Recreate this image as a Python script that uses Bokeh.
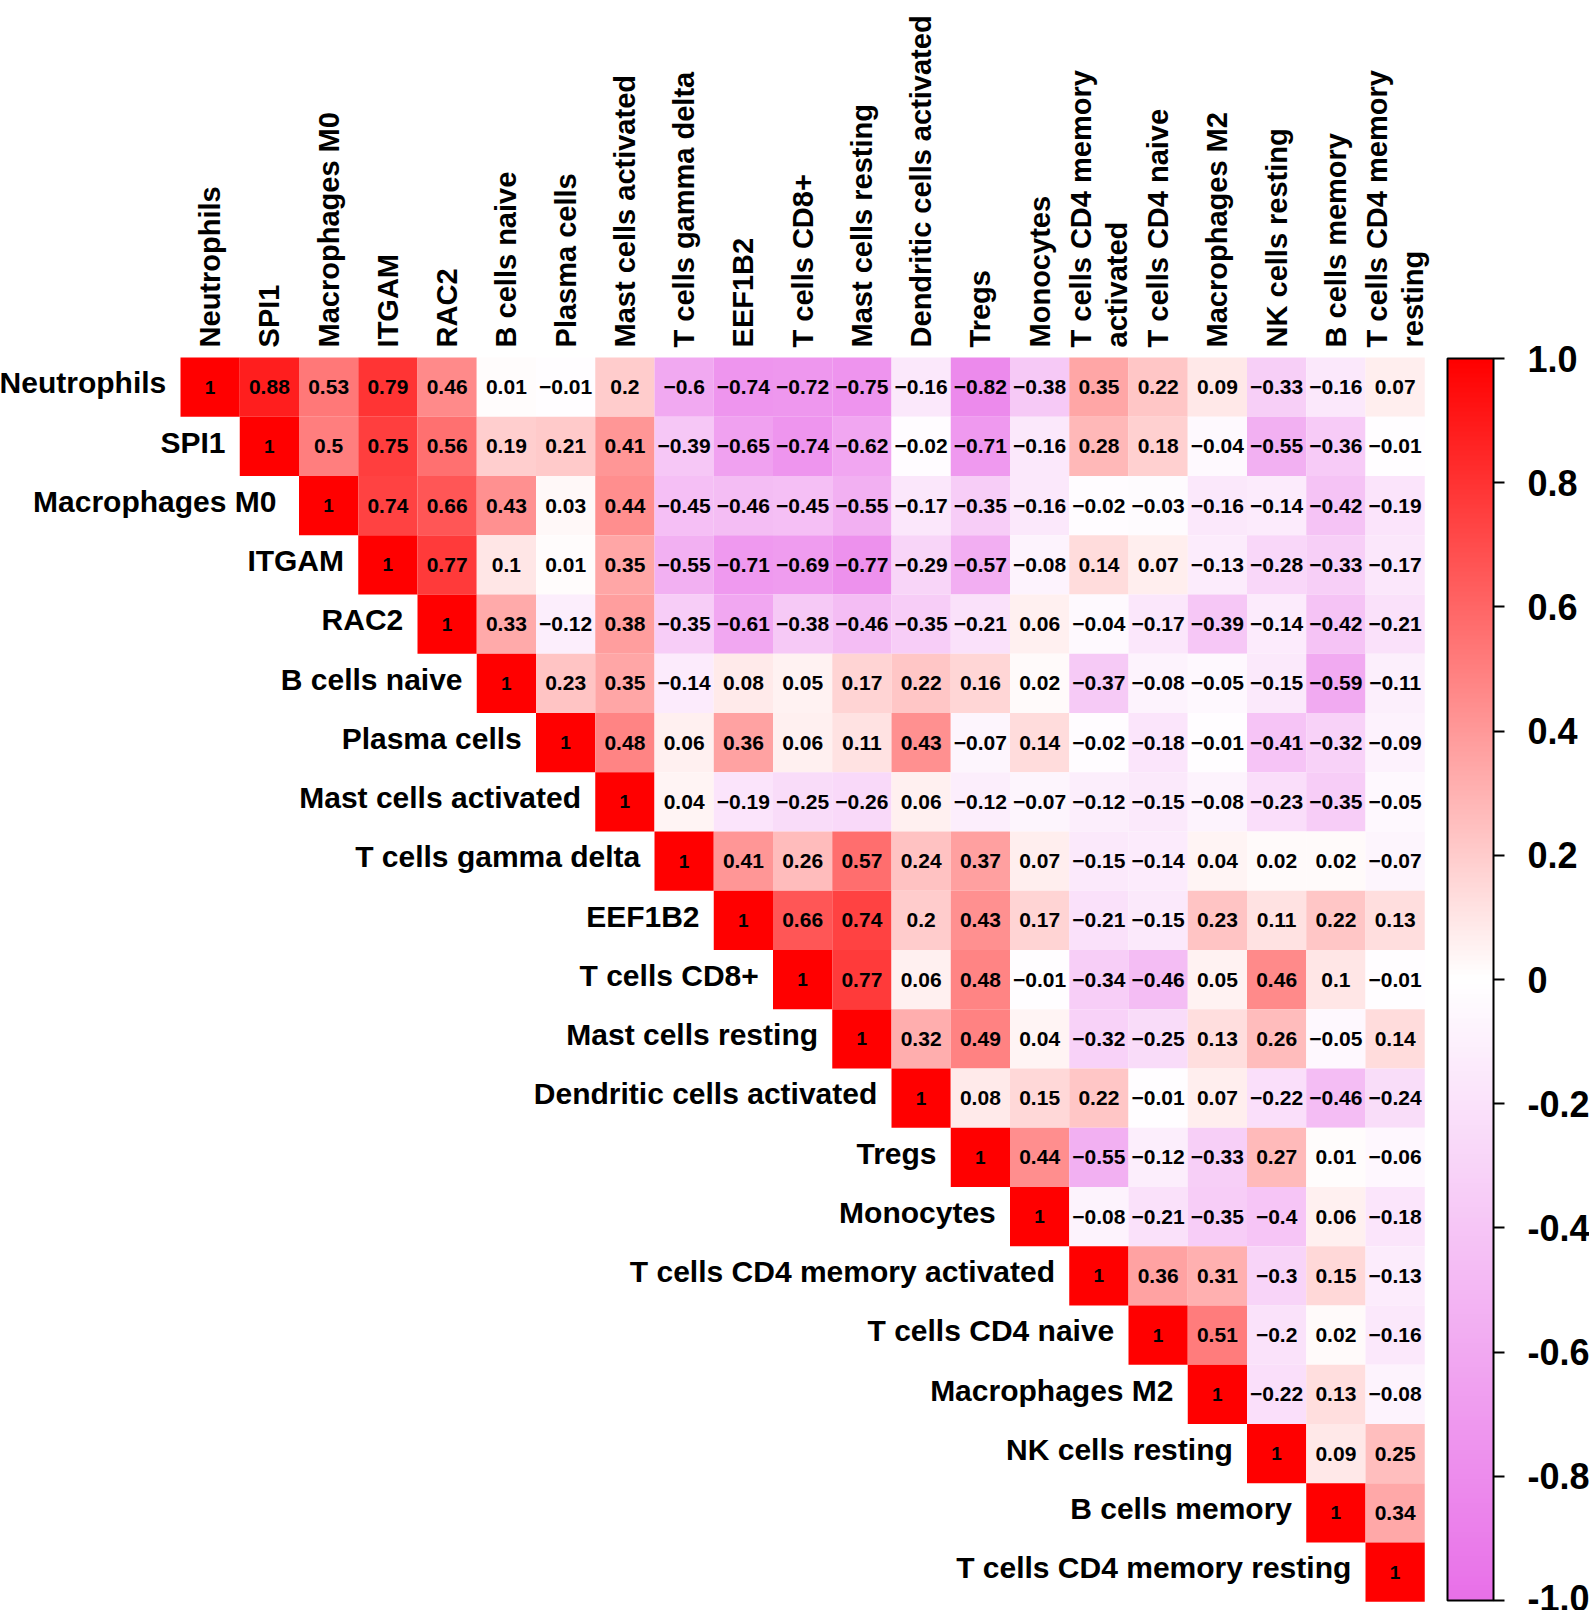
import numpy as np
from bokeh.plotting import figure
from bokeh.models import ColumnDataSource, LinearColorMapper, ColorBar, FixedTicker, CustomJSTickFormatter
from bokeh.core.properties import value
from bokeh.transform import transform
from bokeh.embed import file_html
from bokeh.resources import INLINE

# ---------------- data ----------------
row_labels = ["Neutrophils", "SPI1", "Macrophages  M0", "ITGAM", "RAC2", "B cells naive",
              "Plasma cells", "Mast cells activated", "T cells gamma delta", "EEF1B2",
              "T cells CD8+", "Mast cells resting", "Dendritic cells activated", "Tregs",
              "Monocytes", "T cells CD4 memory activated", "T cells CD4 naive",
              "Macrophages M2", "NK cells resting", "B cells memory",
              "T cells CD4 memory resting"]
col_labels = ["Neutrophils", "SPI1", "Macrophages  M0", "ITGAM", "RAC2", "B cells naive",
              "Plasma cells", "Mast cells activated", "T cells gamma delta", "EEF1B2",
              "T cells CD8+", "Mast cells resting", "Dendritic cells activated", "Tregs",
              "Monocytes", "T cells CD4 memory\nactivated", "T cells CD4 naive",
              "Macrophages M2", "NK cells resting", "B cells memory",
              "T cells CD4 memory\nresting"]

# upper triangle of the correlation matrix, each row starts at the diagonal
neutrophils = [1, 0.88, 0.53, 0.79, 0.46, 0.01, -0.01, 0.2, -0.6, -0.74, -0.72, -0.75, -0.16, -0.82, -0.38, 0.35, 0.22, 0.09, -0.33, -0.16, 0.07]
spi1 = [1, 0.5, 0.75, 0.56, 0.19, 0.21, 0.41, -0.39, -0.65, -0.74, -0.62, -0.02, -0.71, -0.16, 0.28, 0.18, -0.04, -0.55, -0.36, -0.01]
macrophages_m0 = [1, 0.74, 0.66, 0.43, 0.03, 0.44, -0.45, -0.46, -0.45, -0.55, -0.17, -0.35, -0.16, -0.02, -0.03, -0.16, -0.14, -0.42, -0.19]
itgam = [1, 0.77, 0.1, 0.01, 0.35, -0.55, -0.71, -0.69, -0.77, -0.29, -0.57, -0.08, 0.14, 0.07, -0.13, -0.28, -0.33, -0.17]
rac2 = [1, 0.33, -0.12, 0.38, -0.35, -0.61, -0.38, -0.46, -0.35, -0.21, 0.06, -0.04, -0.17, -0.39, -0.14, -0.42, -0.21]
b_cells_naive = [1, 0.23, 0.35, -0.14, 0.08, 0.05, 0.17, 0.22, 0.16, 0.02, -0.37, -0.08, -0.05, -0.15, -0.59, -0.11]
plasma_cells = [1, 0.48, 0.06, 0.36, 0.06, 0.11, 0.43, -0.07, 0.14, -0.02, -0.18, -0.01, -0.41, -0.32, -0.09]
mast_cells_activated = [1, 0.04, -0.19, -0.25, -0.26, 0.06, -0.12, -0.07, -0.12, -0.15, -0.08, -0.23, -0.35, -0.05]
t_cells_gamma_delta = [1, 0.41, 0.26, 0.57, 0.24, 0.37, 0.07, -0.15, -0.14, 0.04, 0.02, 0.02, -0.07]
eef1b2 = [1, 0.66, 0.74, 0.2, 0.43, 0.17, -0.21, -0.15, 0.23, 0.11, 0.22, 0.13]
t_cells_cd8 = [1, 0.77, 0.06, 0.48, -0.01, -0.34, -0.46, 0.05, 0.46, 0.1, -0.01]
mast_cells_resting = [1, 0.32, 0.49, 0.04, -0.32, -0.25, 0.13, 0.26, -0.05, 0.14]
dendritic_cells_activated = [1, 0.08, 0.15, 0.22, -0.01, 0.07, -0.22, -0.46, -0.24]
tregs = [1, 0.44, -0.55, -0.12, -0.33, 0.27, 0.01, -0.06]
monocytes = [1, -0.08, -0.21, -0.35, -0.4, 0.06, -0.18]
t_cells_cd4_memory_activated = [1, 0.36, 0.31, -0.3, 0.15, -0.13]
t_cells_cd4_naive = [1, 0.51, -0.2, 0.02, -0.16]
macrophages_m2 = [1, -0.22, 0.13, -0.08]
nk_cells_resting = [1, 0.09, 0.25]
b_cells_memory = [1, 0.34]
t_cells_cd4_memory_resting = [1]

cbar_ticks = [-1.0, -0.8, -0.6, -0.4, -0.2, 0.0, 0.2, 0.4, 0.6, 0.8, 1.0]
cbar_tick_labels = ["-1.0", "-0.8", "-0.6", "-0.4", "-0.2", "0", "0.2", "0.4", "0.6", "0.8", "1.0"]

rows = [neutrophils, spi1, macrophages_m0, itgam, rac2, b_cells_naive, plasma_cells,
        mast_cells_activated, t_cells_gamma_delta, eef1b2, t_cells_cd8, mast_cells_resting,
        dendritic_cells_activated, tregs, monocytes, t_cells_cd4_memory_activated,
        t_cells_cd4_naive, macrophages_m2, nk_cells_resting, b_cells_memory,
        t_cells_cd4_memory_resting]

# ---------------- build table ----------------
n = len(row_labels)
xs, ys, vals, txt, diag = [], [], [], [], []
for i, r in enumerate(rows):
    for k, v in enumerate(r):
        j = i + k
        xs.append(j + 0.5)
        ys.append(i + 0.5)
        vals.append(v)
        txt.append(f"{v:g}".replace("-", "\u2212"))
        diag.append(k == 0)
diag = np.array(diag)
src_cells = ColumnDataSource(dict(x=xs, y=ys, v=vals))
src_off = ColumnDataSource(dict(x=np.array(xs)[~diag], y=np.array(ys)[~diag],
                                t=np.array(txt)[~diag]))
src_diag = ColumnDataSource(dict(x=np.array(xs)[diag], y=np.array(ys)[diag],
                                 t=np.array(txt)[diag]))

# palette: violet -> white -> red
lo = np.array([232, 112, 232])
mid = np.array([255, 255, 255])
hi = np.array([255, 0, 0])
palette = []
for t in np.linspace(0, 1, 256):
    if t < 0.5:
        c = lo + (mid - lo) * (t / 0.5)
    else:
        c = mid + (hi - mid) * ((t - 0.5) / 0.5)
    palette.append("#%02x%02x%02x" % tuple(int(round(a)) for a in c))
mapper = LinearColorMapper(palette=palette, low=-1, high=1)

# ---------------- layout ----------------
W, H = 1589, 1610
CELL = 59.25
LEFT, TOP = 180, 357
x0 = -LEFT / CELL
x1 = (W - LEFT) / CELL
y_top = -TOP / CELL
y_bot = (H - TOP) / CELL

FONT = value("Liberation Sans")

p = figure(width=W, height=H, x_range=(x0, x1), y_range=(y_bot, y_top),
           output_backend="svg", toolbar_location=None, title=None,
           x_axis_location=None, y_axis_location=None, min_border=0)
p.grid.visible = False
p.outline_line_color = None
p.background_fill_color = "white"

p.rect(x="x", y="y", width=1, height=1, source=src_cells,
       fill_color=transform("v", mapper), line_color=None)

p.text(x="x", y="y", text="t", source=src_off, text_align="center", text_baseline="middle",
       text_font=FONT, text_font_style="bold", text_font_size="21px", text_color="black")
p.text(x="x", y="y", text="t", source=src_diag, text_align="center", text_baseline="middle",
       text_font=FONT, text_font_style="bold", text_font_size="19px", text_color="black")

# row labels left of diagonal
src_rl = ColumnDataSource(dict(x=[i - 0.24 for i in range(n)], y=[i + 0.43 for i in range(n)],
                               t=row_labels))
p.text(x="x", y="y", text="t", source=src_rl, text_align="right", text_baseline="middle",
       text_font=FONT, text_font_style="bold", text_font_size="30px", text_color="black")

# column labels on top, vertical
src_cl = ColumnDataSource(dict(x=[j + 0.5 for j in range(n)], y=[-0.17] * n, t=col_labels))
p.text(x="x", y="y", text="t", source=src_cl, angle=np.pi / 2, text_align="left",
       text_baseline="middle", text_font=FONT, text_font_style="bold",
       text_font_size="29px", text_color="black", text_line_height=1.12)

fmt = CustomJSTickFormatter(args=dict(tick_vals=cbar_ticks, tick_texts=cbar_tick_labels), code="""
let best = 0;
for (let i = 0; i < tick_vals.length; i++) {
  if (Math.abs(tick_vals[i] - tick) < Math.abs(tick_vals[best] - tick)) best = i;
}
return tick_texts[best];
""")

cb = ColorBar(color_mapper=mapper, ticker=FixedTicker(ticks=cbar_ticks), formatter=fmt,
              location=(1447, 10), width=46, height=1242, padding=0, margin=0,
              bar_line_color="black", bar_line_width=2,
              major_tick_in=0, major_tick_out=11, major_tick_line_color="black",
              major_tick_line_width=2, minor_tick_line_color=None,
              label_standoff=23, major_label_text_font_size="36px",
              major_label_text_font_style="bold", major_label_text_font="Liberation Sans",
              major_label_text_color="black",
              background_fill_alpha=0, border_line_color=None)
p.add_layout(cb)

open("out.html", "w").write(file_html(p, INLINE))
